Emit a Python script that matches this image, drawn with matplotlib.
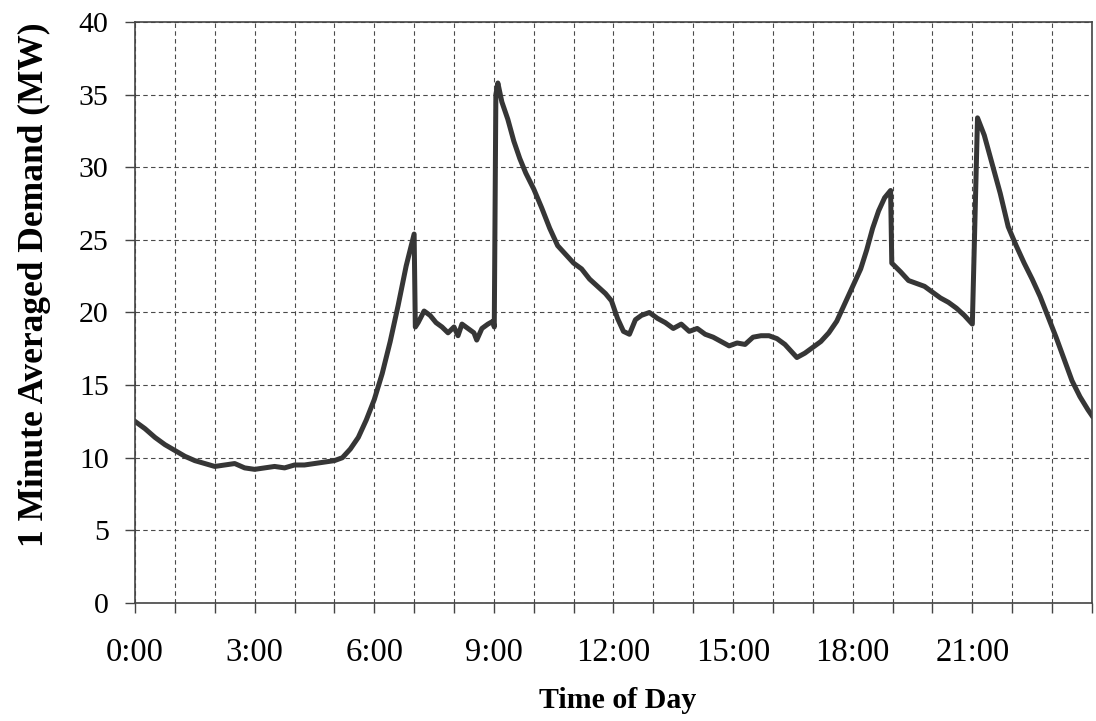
import numpy as np
import matplotlib
matplotlib.use("Agg")
import matplotlib.pyplot as plt

# demand (hour of day, MW)
hours = [0.00, 0.25, 0.50, 0.75, 1.00, 1.25, 1.50, 1.75, 2.00, 2.25, 2.50, 2.75,
         3.00, 3.25, 3.50, 3.75, 4.00, 4.25, 4.50, 4.75, 5.00, 5.20, 5.40, 5.60,
         5.80, 6.00, 6.20, 6.40, 6.60, 6.80, 6.90, 7.00, 7.03, 7.10, 7.25, 7.40,
         7.55, 7.70, 7.85, 8.00, 8.10, 8.20, 8.35, 8.50, 8.57, 8.70, 8.85, 8.98,
         9.01, 9.05, 9.10, 9.20, 9.35, 9.50, 9.65, 9.80, 10.0, 10.2, 10.4, 10.6,
         10.8, 11.0, 11.2, 11.4, 11.6, 11.8, 11.95, 12.1, 12.25, 12.4, 12.55, 12.7,
         12.9, 13.1, 13.3, 13.5, 13.7, 13.9, 14.1, 14.3, 14.5, 14.7, 14.9, 15.1,
         15.3, 15.5, 15.7, 15.9, 16.1, 16.3, 16.5, 16.6, 16.8, 17.0, 17.2, 17.4,
         17.6, 17.8, 18.0, 18.2, 18.35, 18.5, 18.65, 18.8, 18.95, 18.98, 19.2, 19.4,
         19.6, 19.8, 20.0, 20.2, 20.4, 20.6, 20.8, 21.0, 21.13, 21.3, 21.5, 21.7,
         21.9, 22.1, 22.3, 22.5, 22.7, 22.9, 23.1, 23.3, 23.5, 23.7, 23.9, 24.0]
demand = [12.5, 12.0, 11.4, 10.9, 10.5, 10.1, 9.8, 9.6, 9.4, 9.5, 9.6, 9.3,
          9.2, 9.3, 9.4, 9.3, 9.5, 9.5, 9.6, 9.7, 9.8, 10.0, 10.6, 11.4,
          12.6, 14.0, 15.8, 18.0, 20.5, 23.2, 24.3, 25.4, 19.0, 19.3, 20.1, 19.8,
          19.3, 19.0, 18.6, 19.0, 18.4, 19.2, 18.9, 18.6, 18.1, 18.9, 19.2, 19.4,
          19.0, 35.0, 35.8, 34.5, 33.3, 31.8, 30.6, 29.6, 28.5, 27.2, 25.8, 24.6,
          24.0, 23.4, 23.0, 22.3, 21.8, 21.3, 20.8, 19.6, 18.7, 18.5, 19.5, 19.8,
          20.0, 19.6, 19.3, 18.9, 19.2, 18.7, 18.9, 18.5, 18.3, 18.0, 17.7, 17.9,
          17.8, 18.3, 18.4, 18.4, 18.2, 17.8, 17.2, 16.9, 17.2, 17.6, 18.0, 18.6,
          19.4, 20.6, 21.8, 23.0, 24.3, 25.8, 27.0, 27.9, 28.4, 23.4, 22.8, 22.2,
          22.0, 21.8, 21.4, 21.0, 20.7, 20.3, 19.8, 19.2, 33.4, 32.2, 30.2, 28.2,
          25.9, 24.6, 23.4, 22.3, 21.1, 19.7, 18.3, 16.8, 15.3, 14.2, 13.3, 12.9]

tick_hours = list(range(0, 24, 3))
tick_labels = ["%d:00" % h for h in tick_hours]

plt.rcParams['font.family'] = ['Liberation Serif', 'DejaVu Serif']

fig = plt.figure(figsize=(10.96, 7.21), dpi=100)
ax = fig.add_axes([0.1232, 0.1637, 0.8731, 0.8058])

ax.plot(hours, demand, color="#363636", linewidth=3.6, solid_joinstyle="round")

ax.set_xlim(0, 24)
ax.set_ylim(0, 40)
ax.set_xticks(np.arange(0, 25, 1))
ax.set_xticklabels([tick_labels[h // 3] if h % 3 == 0 and h < 24 else "" for h in range(25)])
ax.set_yticks(np.arange(0, 41, 5))
ax.tick_params(axis="both", direction="out", length=7, width=1, color="#444444")
ax.tick_params(axis="x", labelsize=23.5, pad=18)
ax.tick_params(axis="y", labelsize=21.5, pad=12)
ax.grid(True, linestyle=(0, (4, 3)), color="#4a4a4a", linewidth=0.8)

for s in ax.spines.values():
    s.set_color("#444444")
    s.set_linewidth(1.2)

ax.set_xlabel("Time of Day", fontsize=21.5, fontweight="bold")
ax.set_ylabel("1 Minute Averaged Demand (MW)", fontsize=25.5, fontweight="bold")
ax.xaxis.set_label_coords(0.504, -0.144)
ax.yaxis.set_label_coords(-0.088, 0.547)

fig.savefig("out.png", dpi=100, facecolor="white")
